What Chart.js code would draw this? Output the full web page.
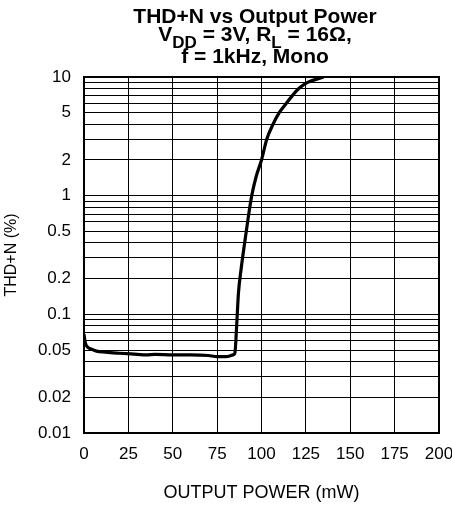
<!DOCTYPE html>
<html>
<head>
<meta charset="utf-8">
<script src="https://cdn.jsdelivr.net/npm/chart.js@4.4.1/dist/chart.umd.min.js"></script>
<style>
  html, body { margin: 0; padding: 0; background: #fff; overflow: hidden; }
  canvas { display: block; }
</style>
</head>
<body>
<canvas id="myChart" width="452" height="508"></canvas>
<script>
// values
const outputPower = [0, 0.5, 1, 2, 4, 7, 12, 20, 30, 35, 40, 50, 60, 70, 75, 80, 84, 85, 86, 87, 88.5, 90.5, 92.5, 94.5, 97, 100, 103, 106.5, 110, 114, 117.5, 121, 126, 135];
const thdN = [0.068, 0.06, 0.056, 0.053, 0.051, 0.049, 0.048, 0.047, 0.046, 0.0455, 0.046, 0.0455, 0.0455, 0.045, 0.044, 0.044, 0.0455, 0.047, 0.08, 0.15, 0.24, 0.4, 0.65, 1.0, 1.45, 2.0, 3.0, 4.0, 5.0, 6.0, 7.0, 8.0, 9.0, 10];

const xTicks = [0, 25, 50, 75, 100, 125, 150, 175, 200];
const yGrid = [0.01, 0.02, 0.03, 0.04, 0.05, 0.06, 0.07, 0.08, 0.09,
  0.1, 0.2, 0.3, 0.4, 0.5, 0.6, 0.7, 0.8, 0.9,
  1, 2, 3, 4, 5, 6, 7, 8, 9, 10];
const yTickLabels = [0.01, 0.02, 0.05, 0.1, 0.2, 0.5, 1, 2, 5, 10];

const titleLines = [
  [{ t: "THD+N vs Output Power" }],
  [{ t: "V" }, { t: "DD", sub: true }, { t: " = 3V, R" }, { t: "L", sub: true }, { t: " = 16Ω," }],
  [{ t: "f = 1kHz, Mono" }]
];

const ctx = document.getElementById("myChart");
const fontFamily = "'Liberation Sans', Arial, sans-serif";

const titlePlugin = {
  id: "subTitle",
  afterDraw(chart) {
    const c = chart.ctx;
    const baselines = [23, 41, 63];
    const mainFont = "bold 21px " + fontFamily;
    const subFont = "bold 17px " + fontFamily;
    c.save();
    c.fillStyle = "#000";
    c.textBaseline = "alphabetic";
    c.textAlign = "left";
    titleLines.forEach((line, i) => {
      let total = 0;
      line.forEach((seg) => {
        c.font = seg.sub ? subFont : mainFont;
        total += c.measureText(seg.t).width;
      });
      let x = 255 - total / 2;
      line.forEach((seg) => {
        c.font = seg.sub ? subFont : mainFont;
        c.fillText(seg.t, x, baselines[i] + (seg.sub ? 7 : 0));
        x += c.measureText(seg.t).width;
      });
    });
    c.restore();
  }
};

const framePlugin = {
  id: "frame",
  beforeDatasetsDraw(chart) {
    const a = chart.chartArea;
    const c = chart.ctx;
    c.save();
    c.strokeStyle = "#000";
    c.lineWidth = 2;
    c.strokeRect(a.left, a.top, a.right - a.left, a.bottom - a.top);
    c.restore();
  }
};

const points = outputPower.map((p, i) => ({ x: p, y: thdN[i] }));

const myChart = new Chart(ctx, {
  type: "line",
  data: {
    datasets: [
      {
        data: points,
        borderColor: "#000",
        borderWidth: 3.2,
        pointRadius: 0,
        cubicInterpolationMode: "monotone",
        fill: false,
      },
    ],
  },
  options: {
    responsive: false,
    animation: false,
    devicePixelRatio: 1,
    layout: { padding: { top: 77, left: 0, right: 0, bottom: 0 } },
    plugins: {
      legend: { display: false },
      tooltip: { enabled: false },
      title: { display: false },
    },
    scales: {
      x: {
        type: "linear",
        min: 0,
        max: 200,
        afterBuildTicks: (s) => { s.ticks = xTicks.map((v) => ({ value: v })); },
        afterFit: (s) => { s.height = 75; s.paddingRight = 13; s.paddingLeft = 0; },
        grid: { color: "#000", lineWidth: 1, drawTicks: false },
        border: { color: "#000", width: 2 },
        ticks: {
          color: "#000",
          autoSkip: false,
          maxRotation: 0,
          padding: 11,
          font: { family: fontFamily, size: 17 },
        },
        title: {
          display: true,
          text: "OUTPUT POWER (mW)",
          color: "#000",
          font: { family: fontFamily, size: 18 },
          padding: { top: 0, bottom: 4 },
        },
      },
      y: {
        type: "logarithmic",
        min: 0.01,
        max: 10,
        afterBuildTicks: (s) => { s.ticks = yGrid.map((v) => ({ value: v })); },
        afterFit: (s) => { s.width = 84; },
        grid: { color: "#000", lineWidth: 1, drawTicks: false },
        border: { color: "#000", width: 2 },
        ticks: {
          color: "#000",
          autoSkip: false,
          padding: 13,
          font: { family: fontFamily, size: 17 },
          callback: (v) => (yTickLabels.includes(v) ? String(v) : ""),
        },
        title: {
          display: true,
          text: "THD+N (%)",
          color: "#000",
          font: { family: fontFamily, size: 16 },
          padding: { top: 2, bottom: 0 },
        },
      },
    },
  },
  plugins: [titlePlugin, framePlugin],
});
</script>
</body>
</html>
